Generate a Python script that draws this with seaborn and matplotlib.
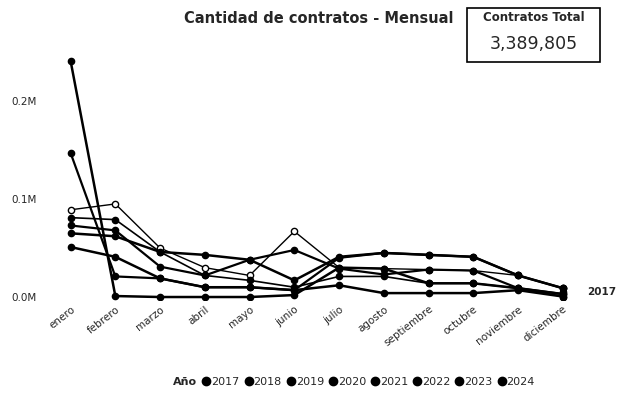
import numpy as np
import pandas as pd
import matplotlib.pyplot as plt
import seaborn as sns
from matplotlib.lines import Line2D
from matplotlib.patches import Rectangle

# Datos (contratos por mes)
meses = ['enero', 'febrero', 'marzo', 'abril', 'mayo', 'junio', 'julio',
         'agosto', 'septiembre', 'octubre', 'noviembre', 'diciembre']
anios = ['2017', '2018', '2019', '2020', '2021', '2022', '2023', '2024']
nan = np.nan
v2017 = [nan, nan, nan, nan, nan, nan, nan, nan, nan, nan, nan, 5000]
v2018 = [65000, 62000, 46000, 43000, 38000, 17000, 41000, 45000, 43000, 41000, 22000, 9000]
v2019 = [89000, 95000, 50000, 30000, 22000, 67000, 30000, 29000, 28000, 27000, 22000, 9000]
v2020 = [73000, 68000, 31000, 22000, 38000, 48000, 29000, 23000, 28000, 27000, 9000, 3000]
v2021 = [81000, 79000, 46000, 22000, 17000, 10000, 21000, 21000, 14000, 14000, 9000, 500]
v2022 = [51000, 41000, 19000, 10000, 10000, 7000, 12000, 4000, 4000, 4000, 7000, 500]
v2023 = [147000, 21000, 19000, 10000, 10000, 7000, 40000, 45000, 43000, 41000, 22000, 9000]
v2024 = [241000, 1000, 0, 0, 0, 2000, 30000, 29000, 14000, 14000, 9000, 3000]
total = '3,389,805'

valores = [v2017, v2018, v2019, v2020, v2021, v2022, v2023, v2024]
df = pd.DataFrame({
    'mes_idx': np.tile(np.arange(len(meses)), len(anios)),
    'anio': np.repeat(anios, len(meses)),
    'valor': np.concatenate(valores),
})

# estilo escaneado: todo en negro, algunas series con marcador hueco
relleno = {'2017': 'black', '2018': 'black', '2019': 'white', '2020': 'black',
           '2021': 'black', '2022': 'black', '2023': 'black', '2024': 'black'}
grosor = {'2017': 1.6, '2018': 1.8, '2019': 1.0, '2020': 1.6,
          '2021': 1.2, '2022': 1.8, '2023': 1.6, '2024': 1.8}

sns.set_style('white')
fig = plt.figure(figsize=(6.18, 4.07), dpi=100)
ax = fig.add_axes([0.078, 0.263, 0.869, 0.614])

for a in anios:
    d = df[df['anio'] == a].dropna()
    sns.lineplot(data=d, x='mes_idx', y='valor', ax=ax, color='black',
                 linewidth=grosor[a], marker='o', markersize=4.5,
                 markerfacecolor=relleno[a], markeredgecolor='black',
                 markeredgewidth=1.0, legend=False)

ax.set_xlim(-0.5, 11.5)
ax.set_ylim(-3000, 252000)
ax.set_xticks(range(len(meses)))
ax.set_xticklabels(meses, rotation=38, ha='right', rotation_mode='anchor', fontsize=7.5)
ax.set_yticks([0, 100000, 200000])
ax.set_yticklabels(['0.0M', '0.1M', '0.2M'], fontsize=7.5)
ax.tick_params(axis='y', pad=8, length=0)
ax.tick_params(axis='x', length=0, pad=3)
ax.set_xlabel('')
ax.set_ylabel('')
for s in ax.spines.values():
    s.set_visible(False)

# etiqueta del final de la serie
ax.text(11.55, v2017[-1], '2017', fontsize=7.5, fontweight='bold', va='center', ha='left')

# título
fig.text(0.515, 0.955, 'Cantidad de contratos - Mensual', fontsize=10.5,
         fontweight='bold', ha='center', va='center')

# tarjeta total
fig.patches.append(Rectangle((0.756, 0.848), 0.215, 0.132, transform=fig.transFigure,
                             fill=False, edgecolor='black', linewidth=1.2))
fig.text(0.863, 0.958, 'Contratos Total', fontsize=8.5, fontweight='bold',
         ha='center', va='center')
fig.text(0.863, 0.892, total, fontsize=12.5, ha='center', va='center')

# leyenda
handles = [Line2D([], [], linestyle='none')]
handles += [Line2D([], [], linestyle='none', marker='o', color='black', markersize=6)
            for _ in anios]
leg = fig.legend(handles, ['Año'] + anios, loc='center', bbox_to_anchor=(0.565, 0.062),
                 ncol=9, frameon=False, fontsize=8, handletextpad=0.0,
                 columnspacing=0.35, handlelength=0.9)
leg.get_texts()[0].set_fontweight('bold')

fig.savefig('out.png', dpi=100)
